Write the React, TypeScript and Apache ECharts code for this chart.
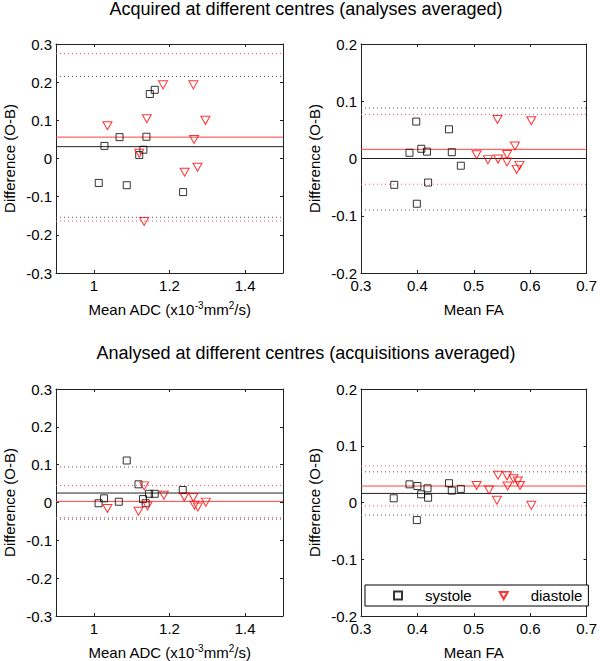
import React, { useEffect, useRef } from "react";
import * as echarts from "echarts";

// ---- Panel A: acquired at different centres, ADC ----
const adcAcqSysX = [1.013, 1.028, 1.068, 1.087, 1.12, 1.131, 1.139, 1.148, 1.161, 1.236];
const adcAcqSysY = [-0.064, 0.033, 0.056, -0.07, 0.009, 0.023, 0.057, 0.169, 0.18, -0.088];
const adcAcqDiaX = [1.036, 1.12, 1.133, 1.14, 1.183, 1.24, 1.263, 1.265, 1.274, 1.295];
const adcAcqDiaY = [0.086, 0.014, -0.165, 0.104, 0.193, -0.036, 0.193, 0.05, -0.023, 0.1];
const adcAcqSysLines = [0.031, 0.215, -0.154]; // mean, upper, lower
const adcAcqDiaLines = [0.056, 0.275, -0.164];

// ---- Panel B: acquired at different centres, FA ----
const faAcqSysX = [0.359, 0.386, 0.398, 0.399, 0.407, 0.417, 0.419, 0.456, 0.461, 0.477];
const faAcqSysY = [-0.046, 0.01, 0.0645, -0.079, 0.017, 0.012, -0.042, 0.051, 0.011, -0.0126];
const faAcqDiaX = [0.505, 0.525, 0.542, 0.543, 0.559, 0.559, 0.573, 0.576, 0.581, 0.602];
const faAcqDiaY = [0.0067, -0.002, 0.068, -0.001, 0.007, -0.006, 0.022, -0.019, -0.012, 0.066];
const faAcqSysLines = [0.0, 0.088, -0.09];
const faAcqDiaLines = [0.016, 0.077, -0.045];

// ---- Panel C: analysed at different centres, ADC ----
const adcAnaSysX = [1.0125, 1.027, 1.066, 1.087, 1.118, 1.13, 1.137, 1.146, 1.161, 1.235];
const adcAnaSysY = [-0.002, 0.011, 0.002, 0.111, 0.048, 0.009, -0.002, 0.023, 0.023, 0.033];
const adcAnaDiaX = [1.036, 1.118, 1.133, 1.142, 1.185, 1.239, 1.263, 1.266, 1.275, 1.296];
const adcAnaDiaY = [-0.016, -0.023, 0.044, -0.009, 0.019, 0.015, 0.013, -0.007, -0.012, 0.001];
const adcAnaSysLines = [0.025, 0.094, -0.044];
const adcAnaDiaLines = [0.003, 0.045, -0.04];

// ---- Panel D: analysed at different centres, FA ----
const faAnaSysX = [0.358, 0.386, 0.399, 0.4, 0.4066, 0.418, 0.419, 0.456, 0.461, 0.477];
const faAnaSysY = [0.0074, 0.032, -0.031, 0.029, 0.0145, 0.025, 0.0085, 0.034, 0.021, 0.024];
const faAnaDiaX = [0.505, 0.527, 0.541, 0.543, 0.559, 0.56, 0.5705, 0.578, 0.582, 0.602];
const faAnaDiaY = [0.03, 0.022, 0.004, 0.048, 0.047, 0.029, 0.042, 0.038, 0.03, -0.005];
const faAnaSysLines = [0.016, 0.054, -0.022];
const faAnaDiaLines = [0.029, 0.0645, -0.006];

// ---- Axes / ticks ----
const adcRange = [0.9, 1.5];
const adcTicks = [1, 1.2, 1.4];
const faRange = [0.3, 0.7];
const faTicks = [0.3, 0.4, 0.5, 0.6, 0.7];
const adcDiffRange = [-0.3, 0.3];
const adcDiffTicks = [-0.3, -0.2, -0.1, 0, 0.1, 0.2, 0.3];
const faDiffRange = [-0.2, 0.2];
const faDiffTicks = [-0.2, -0.1, 0, 0.1, 0.2];

const titles = [
  "Acquired at different centres (analyses averaged)",
  "Analysed at different centres (acquisitions averaged)",
];
const seriesNames = ["systole", "diastole"];
const yName = "Difference (O-B)";
const adcName = "{n|Mean ADC (x10}{s|-3}{n|mm}{s|2}{n|/s)}";
const faName = "{n|Mean FA}";

const FONT = "'Liberation Sans', Arial, Helvetica, sans-serif";
const BLACK = "#000000";
const RED = "#ff0000";
const TRI = "path://M0,0L10,0L5,9Z";

const panels = [
  { sx: adcAcqSysX, sy: adcAcqSysY, dx: adcAcqDiaX, dy: adcAcqDiaY, sl: adcAcqSysLines, dl: adcAcqDiaLines, xr: adcRange, xt: adcTicks, yr: adcDiffRange, yt: adcDiffTicks, xn: adcName },
  { sx: faAcqSysX, sy: faAcqSysY, dx: faAcqDiaX, dy: faAcqDiaY, sl: faAcqSysLines, dl: faAcqDiaLines, xr: faRange, xt: faTicks, yr: faDiffRange, yt: faDiffTicks, xn: faName },
  { sx: adcAnaSysX, sy: adcAnaSysY, dx: adcAnaDiaX, dy: adcAnaDiaY, sl: adcAnaSysLines, dl: adcAnaDiaLines, xr: adcRange, xt: adcTicks, yr: adcDiffRange, yt: adcDiffTicks, xn: adcName },
  { sx: faAnaSysX, sy: faAnaSysY, dx: faAnaDiaX, dy: faAnaDiaY, sl: faAnaSysLines, dl: faAnaDiaLines, xr: faRange, xt: faTicks, yr: faDiffRange, yt: faDiffTicks, xn: faName },
];

const grids = [
  { left: 56, top: 44, width: 227, height: 229 },
  { left: 361, top: 44, width: 228, height: 229 },
  { left: 56, top: 389, width: 227, height: 227 },
  { left: 361, top: 389, width: 228, height: 227 },
];

const axisLineStyle = { color: "#222", width: 1 };

function buildOption() {
  const xAxis: any[] = [];
  const yAxis: any[] = [];
  const series: any[] = [];
  panels.forEach((p, i) => {
    const common = (range: number[], ticks: number[]) => ({
      type: "value",
      gridIndex: i,
      min: range[0],
      max: range[1],
      splitLine: { show: false },
      axisLine: { show: true, onZero: false, lineStyle: axisLineStyle },
      axisTick: { show: true, inside: true, length: 3, lineStyle: axisLineStyle, customValues: ticks },
    });
    xAxis.push({
      ...common(p.xr, p.xt),
      position: "bottom",
      axisLabel: { show: true, customValues: p.xt, margin: 5, fontSize: 15, color: "#000", fontFamily: FONT, showMinLabel: true, showMaxLabel: true },
      name: p.xn,
      nameLocation: "middle",
      nameGap: 27,
      nameTextStyle: {
        fontFamily: FONT,
        color: "#000",
        rich: {
          n: { fontSize: 15, lineHeight: 17, verticalAlign: "bottom", fontFamily: FONT, color: "#000" },
          s: { fontSize: 10, lineHeight: 10, verticalAlign: "top", fontFamily: FONT, color: "#000" },
        },
      },
    });
    xAxis.push({
      ...common(p.xr, p.xt),
      position: "top",
      axisLabel: { show: false },
    });
    yAxis.push({
      ...common(p.yr, p.yt),
      position: "left",
      axisLabel: { show: true, customValues: p.yt, margin: 4, fontSize: 15, color: "#000", fontFamily: FONT, showMinLabel: true, showMaxLabel: true },
      name: yName,
      nameLocation: "middle",
      nameRotate: 90,
      nameGap: 39,
      nameTextStyle: { fontSize: 15, color: "#000", fontFamily: FONT },
    });
    yAxis.push({
      ...common(p.yr, p.yt),
      position: "right",
      axisLabel: { show: false },
    });

    const refLine = (name: string, v: number, color: string, dotted: boolean) => ({
      type: "line",
      name,
      xAxisIndex: i * 2,
      yAxisIndex: i * 2,
      silent: true,
      showSymbol: false,
      symbol: "none",
      z: 2,
      lineStyle: { color, width: 1, type: dotted ? [1, 3] : "solid" },
      data: [
        [p.xr[0], v],
        [p.xr[1], v],
      ],
    });
    // systole mean & limits
    series.push(refLine("systole mean", p.sl[0], "#222222", false));
    series.push(refLine("systole upper", p.sl[1], "#555555", true));
    series.push(refLine("systole lower", p.sl[2], "#555555", true));
    // diastole mean & limits
    series.push(refLine("diastole mean", p.dl[0], "#ff4040", false));
    series.push(refLine("diastole upper", p.dl[1], "#ff5070", true));
    series.push(refLine("diastole lower", p.dl[2], "#ff5070", true));

    series.push({
      type: "scatter",
      name: seriesNames[0],
      xAxisIndex: i * 2,
      yAxisIndex: i * 2,
      symbol: "rect",
      symbolSize: 7,
      itemStyle: { color: "rgba(255,255,255,0)", borderColor: BLACK, borderWidth: 1 },
      data: p.sx.map((x, k) => [x, p.sy[k]]),
      z: 3,
    });
    series.push({
      type: "scatter",
      name: seriesNames[1],
      xAxisIndex: i * 2,
      yAxisIndex: i * 2,
      symbol: TRI,
      symbolSize: [9, 8],
      symbolKeepAspect: false,
      itemStyle: { color: "rgba(255,255,255,0)", borderColor: RED, borderWidth: 1 },
      data: p.dx.map((x, k) => [x, p.dy[k]]),
      z: 3,
    });
  });

  return {
    animation: false,
    backgroundColor: "#ffffff",
    textStyle: { fontFamily: FONT },
    title: [
      { text: titles[0], left: 306, top: 0, textAlign: "center", padding: 0, textStyle: { fontSize: 18, fontWeight: "normal", color: "#000", fontFamily: FONT } },
      { text: titles[1], left: 306, top: 344, textAlign: "center", padding: 0, textStyle: { fontSize: 18, fontWeight: "normal", color: "#000", fontFamily: FONT } },
    ],
    legend: {
      data: seriesNames,
      left: 365,
      top: 585,
      orient: "horizontal",
      padding: [3, 6, 3, 28],
      itemWidth: 8,
      itemHeight: 8,
      itemGap: 27,
      borderColor: "#000",
      borderWidth: 1,
      backgroundColor: "#fff",
      selectedMode: false,
      textStyle: { fontSize: 15, color: "#000", fontFamily: FONT, padding: [0, 0, 0, 18] },
    },
    grid: grids.map((g) => ({ ...g, containLabel: false })),
    xAxis,
    yAxis,
    series,
  };
}

export default function App() {
  const ref = useRef<HTMLDivElement>(null);
  useEffect(() => {
    if (!ref.current) return;
    const chart = echarts.init(ref.current, undefined, { renderer: "svg" });
    chart.setOption(buildOption() as any);
    return () => chart.dispose();
  }, []);
  return (
    <div
      ref={ref}
      style={{ position: "absolute", left: 0, top: 0, width: 600, height: 661, background: "#fff" }}
    />
  );
}
